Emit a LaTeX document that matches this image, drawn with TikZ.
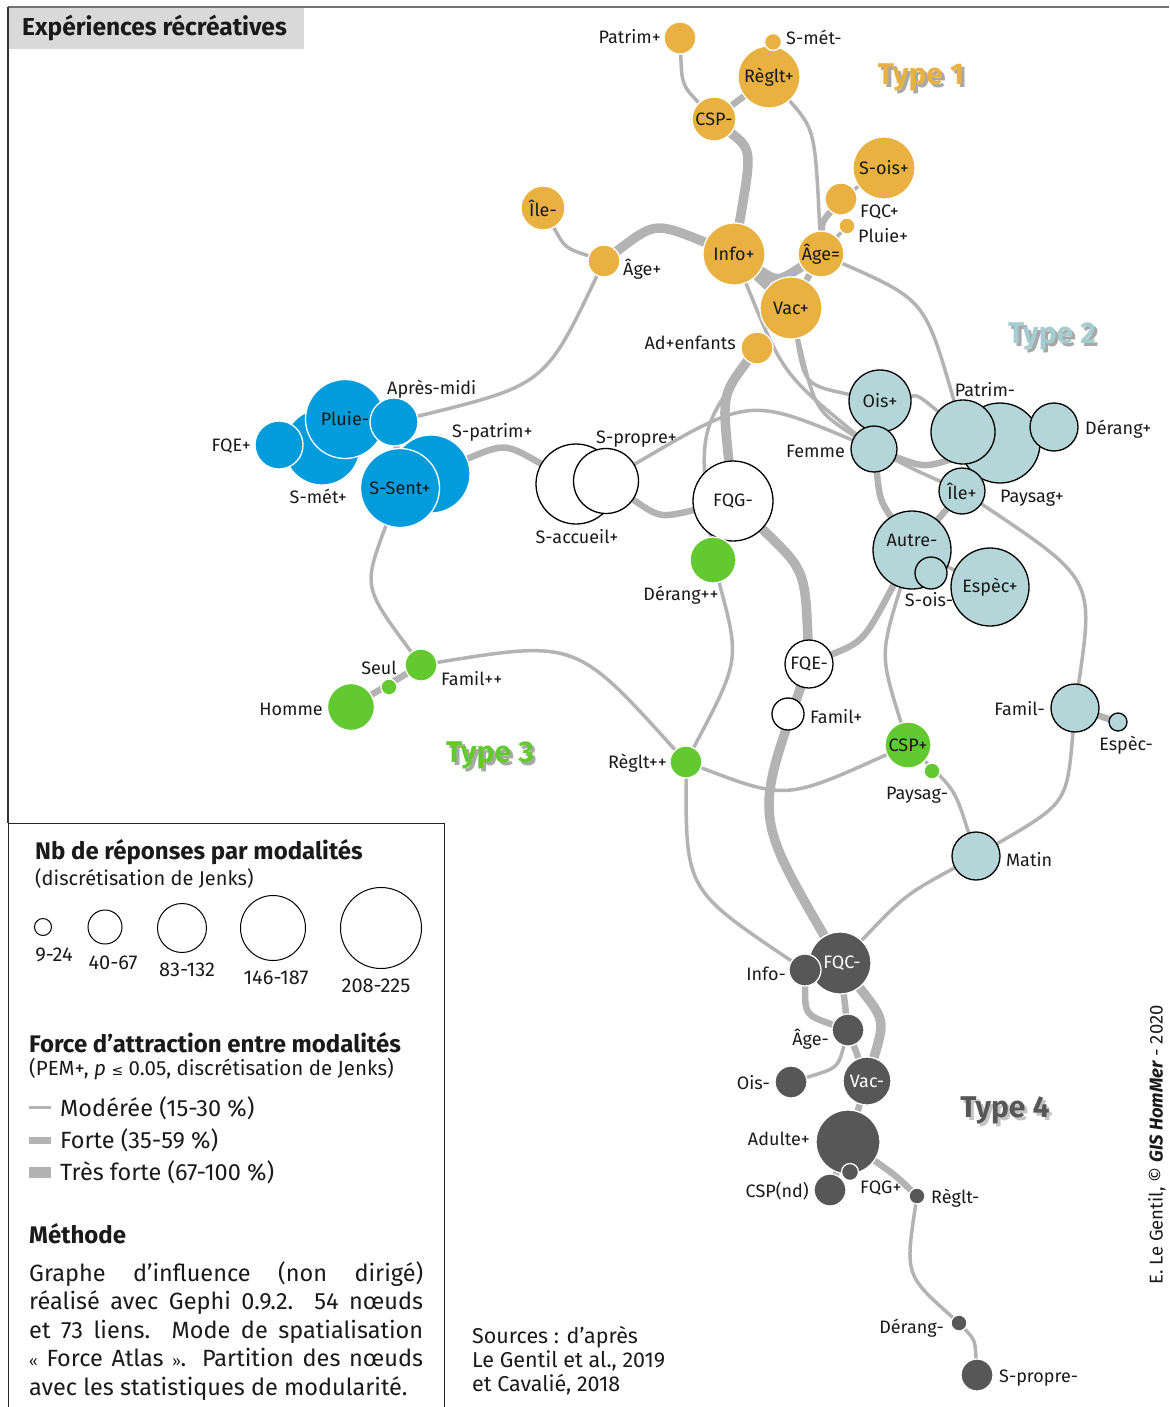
\documentclass[tikz,border=0pt]{standalone}
\usepackage{fontspec}
\setmainfont{Fira Sans}
\newfontfamily\dejavu{DejaVu Sans}
\definecolor{orn}{HTML}{E8B142}
\definecolor{blu}{HTML}{009CDB}
\definecolor{tea}{HTML}{B4D6D9}
\definecolor{grn}{HTML}{62C930}
\definecolor{dgr}{HTML}{575757}
\definecolor{edg}{HTML}{B3B3B3}
\definecolor{txt}{HTML}{1A1A1A}
\definecolor{ttlgray}{HTML}{D9D9D9}
\definecolor{shd}{HTML}{A8A8A8}
\definecolor{shdk}{HTML}{C4C4C4}
\definecolor{teatype}{HTML}{A6CCD0}
\definecolor{grntype}{HTML}{62C930}
\newcommand\shadowtxt[2]{\rlap{\hspace*{3pt}\raisebox{-3pt}{\textcolor{#1}{#2}}}}
\pgfdeclarelayer{edgelayer}
\pgfsetlayers{edgelayer,main}
\begin{document}
\begin{tikzpicture}[x=1pt,y=-1pt,
 nd/.style={circle,inner sep=0pt,outer sep=0pt,font=\fontsize{18}{20}\selectfont,text=txt,line width=1.3pt},
 on/.style={nd,fill=orn,draw=white},
 bn/.style={nd,fill=blu,draw=white},
 tn/.style={nd,fill=tea,draw=black},
 wn/.style={nd,fill=white,draw=black},
 gn/.style={nd,fill=grn,draw=white},
 kn/.style={nd,fill=dgr,draw=white,text=white},
 lb/.style={inner sep=0pt,font=\fontsize{18}{20}\selectfont,text=txt,text height=12pt,text depth=0pt},
 em/.style={draw=edg,line width=3.5pt},
 ef/.style={draw=edg,line width=6.5pt},
 et/.style={draw=edg,line width=9.5pt},
 typ/.style={inner sep=0pt,font=\fontsize{30}{32}\bfseries\selectfont},
 lgc/.style={circle,draw=black,line width=1pt,fill=white,inner sep=0pt},
 lgt/.style={inner sep=0pt,font=\fontsize{20}{22}\selectfont,text=txt},
 hd/.style={anchor=west,inner sep=0pt,font=\fontsize{24}{26}\bfseries\selectfont,text=txt},
 rg/.style={anchor=west,inner sep=0pt,font=\fontsize{23.5}{26}\selectfont,text=txt},
]
\useasboundingbox (0,0) rectangle (1169,1407);
% frame
\draw[line width=1.5pt,color=black!55] (8,7) -- (1169,7);
\draw[line width=1.5pt,color=black!80] (8,7) -- (8,823);
\node[fill=ttlgray,minimum width=295pt,minimum height=41pt,anchor=north west,inner sep=0pt] (titlebox) at (9,8) {};
\node[anchor=west,inner sep=0pt,font=\fontsize{24.5}{26}\bfseries\selectfont,text=txt] (title) at (22,28) {Expériences récréatives};

% ---------- Type 1 ----------
\node[on,minimum size=32pt] (patrimp) at (680,38) {};
\node[on,minimum size=62pt] (reglp) at (769,77) {Règlt+};
\node[on,minimum size=17pt] (smetm) at (773,42) {};
\node[on,minimum size=44pt] (cspm) at (714,119) {CSP-};
\node[on,minimum size=62pt] (soisp) at (884,168) {S-ois+};
\node[on,minimum size=32pt] (fqcp) at (841,199) {};
\node[on,minimum size=16pt] (pluiep) at (847,226) {};
\node[on,minimum size=44pt] (ilem) at (543,208) {Île-};
\node[on,minimum size=32pt] (agep) at (604,261) {};
\node[on,minimum size=62pt] (infop) at (734,254) {Info+};
\node[on,minimum size=46pt] (agee) at (821,254) {Âge=};
\node[on,minimum size=32pt] (adenf) at (757,348) {};
\node[on,minimum size=62pt] (vacp) at (791,308) {Vac+};
\node[lb,anchor=east] (l-patrimp) at (661,38) {Patrim+};
\node[lb,anchor=west] (l-smetm) at (786,39) {S-mét-};
\node[lb,anchor=west] (l-fqcp) at (860,211) {FQC+};
\node[lb,anchor=west] (l-pluiep) at (858,236) {Pluie+};
\node[lb,anchor=west] (l-agep) at (623,269) {Âge+};
\node[lb,anchor=east] (l-adenf) at (736,343) {Ad+enfants};

% ---------- Type 3 blue ----------
\node[bn,minimum size=76pt] (smetp) at (322,447) {};
\node[bn,minimum size=79pt] (pluiem) at (345,419) {Pluie-};
\node[bn,minimum size=48pt] (fqep) at (279,445) {};
\node[bn,minimum size=48pt] (apres) at (394,422) {};
\node[bn,minimum size=78pt] (spatrim) at (431,474) {};
\node[bn,minimum size=79pt] (ssent) at (400,488) {S-Sent+};
\node[lb,anchor=west] (l-apres) at (387,388) {Après-midi};
\node[lb,anchor=east] (l-fqep) at (251,445) {FQE+};
\node[lb,anchor=west] (l-spatrim) at (452,431) {S-patrim+};
\node[lb,anchor=east] (l-smetp) at (347,497) {S-mét+};

% ---------- white ----------
\node[wn,minimum size=80pt] (saccueil) at (576,484) {};
\node[wn,minimum size=65pt] (spropre) at (606,481) {};
\node[wn,minimum size=80pt] (fqgm) at (733,501) {FQG-};
\node[wn,minimum size=48pt] (fqem) at (809,664) {FQE-};
\node[wn,minimum size=32pt] (familp) at (788,714) {};
\node[lb,anchor=west] (l-spropre) at (596,437) {S-propre+};
\node[lb] (l-saccueil) at (577,537) {S-accueil+};
\node[lb,anchor=west] (l-familp) at (810,717) {Famil+};

% ---------- green ----------
\node[gn,minimum size=46pt] (derangpp) at (713,560) {};
\node[gn,minimum size=32pt] (famipp) at (421,665) {};
\node[gn,minimum size=16pt] (seul) at (389,687) {};
\node[gn,minimum size=47pt] (homme) at (351,707) {};
\node[gn,minimum size=32pt] (regltpp) at (686,762) {};
\node[gn,minimum size=46pt] (cspp) at (908,745) {CSP+};
\node[gn,minimum size=16pt] (paysagm) at (932,771) {};
\node[lb] (l-derangpp) at (681,594) {Dérang++};
\node[lb] (l-seul) at (379,668) {Seul};
\node[lb,anchor=west] (l-famipp) at (441,679) {Famil++};
\node[lb,anchor=east] (l-homme) at (323,709) {Homme};
\node[lb,anchor=east] (l-regltpp) at (667,762) {Règlt++};
\node[lb] (l-paysagm) at (917,793) {Paysag-};

% ---------- teal ----------
\node[tn,minimum size=62pt] (oisp) at (880,401) {Ois+};
\node[tn,minimum size=46pt] (femme) at (874,449) {};
\node[tn,minimum size=80pt] (paysagp) at (1000,443) {};
\node[tn,minimum size=64pt] (patrimm) at (963,432) {};
\node[tn,minimum size=48pt] (derangp) at (1054,427) {};
\node[tn,minimum size=46pt] (ilep) at (962,491) {Île+};
\node[tn,minimum size=78pt] (autrem) at (912,550) {};
\node[tn,minimum size=32pt] (soism) at (931,573) {};
\node[tn,minimum size=78pt] (especp) at (990,587) {Espèc+};
\node[tn,minimum size=48pt] (familm) at (1075,708) {};
\node[tn,minimum size=18pt] (especm) at (1118,722) {};
\node[tn,minimum size=48pt] (matin) at (976,856) {};
\node[lb] (l-autrem) at (912,540) {Autre-};
\node[lb,anchor=east] (l-femme) at (845,451) {Femme};
\node[lb] (l-patrimm) at (985,390) {Patrim-};
\node[lb,anchor=west] (l-derangp) at (1085,428) {Dérang+};
\node[lb,anchor=west] (l-paysagp) at (1000,496) {Paysag+};
\node[lb] (l-soism) at (929,600) {S-ois-};
\node[lb,anchor=east] (l-familm) at (1045,709) {Famil-};
\node[lb] (l-especm) at (1126,744) {Espèc-};
\node[lb,anchor=west] (l-matin) at (1006,860) {Matin};

% ---------- dark gray ----------
\node[kn,minimum size=62pt] (fqcm) at (840,963) {\hspace*{4pt}FQC-};
\node[kn,minimum size=32pt] (infom) at (805,970) {};
\node[kn,minimum size=32pt] (agem) at (848,1030) {};
\node[kn,minimum size=32pt] (oism) at (791,1082) {};
\node[kn,minimum size=48pt] (vacm) at (867,1081) {Vac-};
\node[kn,minimum size=64pt] (adulte) at (848,1142) {};
\node[kn,minimum size=32pt] (cspnd) at (830,1190) {};
\node[kn,minimum size=17pt] (fqgp) at (850,1172) {};
\node[kn,minimum size=16pt] (regltm) at (917,1196) {};
\node[kn,minimum size=16pt] (derangm) at (959,1323) {};
\node[kn,minimum size=32pt] (sproprem) at (977,1375) {};
\node[lb,anchor=east] (l-infom) at (786,974) {Info-};
\node[lb,anchor=east] (l-agem) at (829,1039) {Âge-};
\node[lb,anchor=east] (l-oism) at (770,1083) {Ois-};
\node[lb,anchor=east] (l-adulte) at (810,1139) {Adulte+};
\node[lb,anchor=west] (l-fqgp) at (860,1187) {FQG+};
\node[lb,anchor=east] (l-cspnd) at (809,1191) {CSP(nd)};
\node[lb,anchor=west] (l-regltm) at (931,1197) {Règlt-};
\node[lb,anchor=east] (l-derangm) at (944,1327) {Dérang-};
\node[lb,anchor=west] (l-sproprem) at (999,1376) {S-propre-};

% ---------- type labels ----------
\node[typ] (t1) at (921,79) {\shadowtxt{shd}{Type 1}\textcolor{orn}{Type 1}};
\node[typ] (t2) at (1052,338) {\shadowtxt{shd}{Type 2}\textcolor{teatype}{Type 2}};
\node[typ] (t3) at (490,757) {\shadowtxt{shd}{Type 3}\textcolor{grntype}{Type 3}};
\node[typ] (t4) at (1005,1112) {\shadowtxt{shdk}{Type 4}\textcolor{dgr}{Type 4}};

% ---------- edges ----------
\begin{pgfonlayer}{edgelayer}
\draw[em] (patrimp) .. controls (682,85) .. (cspm);
\draw[ef] (cspm) -- (reglp);
\draw[et] (cspm) .. controls (752,150) .. (infop);
\draw[em] (reglp) .. controls (815,130) .. (agee);
\draw[em] (soisp) -- (fqcp);
\draw[ef] (fqcp) .. controls (822,222) .. (agee);
\draw[em] (pluiep) -- (agee);
\draw[em] (ilem) .. controls (565,248) .. (agep);
\draw[et] (agep) .. controls (655,222) .. (infop);
\draw[em] (agep) .. controls (545,385) .. (apres);
\draw[et] (infop) .. controls (778,282) .. (agee);
\draw[et] (infop) -- (vacp);
\draw[ef] (agee) -- (vacp);
\draw[em] (infop) .. controls (783,374) .. (femme);
\draw[em] (vacp) .. controls (805,385) .. (oisp);
\draw[em] (vacp) .. controls (815,410) .. (femme);
\draw[em] (agee) .. controls (925,300) .. (patrimm);
\draw[et] (adenf) .. controls (722,395) .. (fqgm);
\draw[em] (adenf) .. controls (699,431) .. (derangpp);
\draw[ef] (spatrim) .. controls (505,443) .. (saccueil);
\draw[ef] (spropre) .. controls (660,518) .. (fqgm);
\draw[em] (spropre) .. controls (749,397) .. (femme);
\draw[et] (fqgm) .. controls (805,570) .. (fqem);
\draw[et] (fqem) .. controls (755,816) .. (fqcm);
\draw[ef] (fqem) .. controls (864,641) .. (autrem);
\draw[ef] (femme) .. controls (880,500) .. (autrem);
\draw[ef] (autrem) -- (ilep);
\draw[em] (autrem) -- (especp);
\draw[ef] (femme) .. controls (925,468) .. (paysagp);
\draw[em] (femme) .. controls (915,470) .. (ilep);
\draw[em] (oisp) .. controls (918,395) .. (patrimm);
\draw[em] (ilep) .. controls (1094,579) .. (familm);
\draw[ef] (familm) -- (especm);
\draw[em] (familm) .. controls (1067,803) .. (matin);
\draw[em] (autrem) .. controls (880,655) .. (cspp);
\draw[em] (cspp) .. controls (786,800) .. (regltpp);
\draw[em] (cspp) .. controls (955,790) .. (matin);
\draw[em] (matin) .. controls (905,895) .. (fqcm);
\draw[em] (regltpp) .. controls (740,660) .. (derangpp);
\draw[em] (famipp) .. controls (576,640) .. (regltpp);
\draw[em] (regltpp) .. controls (686,890) .. (infom);
\draw[em] (ssent) .. controls (363,587) .. (famipp);
\draw[ef] (famipp) -- (homme);
\draw[ef] (apres) -- (ssent);
\draw[ef] (fqcm) -- (agem);
\draw[ef] (infom) .. controls (805,1015) .. (agem);
\draw[et] (fqcm) .. controls (885,1020) .. (vacm);
\draw[em] (agem) .. controls (838,1068) .. (oism);
\draw[ef] (agem) -- (vacm);
\draw[ef] (vacm) -- (adulte);
\draw[ef] (adulte) .. controls (895,1175) .. (regltm);
\draw[ef] (adulte) -- (cspnd);
\draw[em] (regltm) .. controls (905,1275) .. (derangm);
\draw[em] (derangm) .. controls (975,1340) .. (sproprem);
\end{pgfonlayer}

% ---------- legend ----------
\draw[line width=1pt,color=black!85] (8,1408) -- (8,823) -- (444,823) -- (444,1408);
\node[hd] (lg1) at (35,852) {Nb de réponses par modalités};
\node[anchor=west,inner sep=0pt,font=\fontsize{20}{22}\selectfont,text=txt] (lg1b) at (35,878) {(discrétisation de Jenks)};
\node[lgc,minimum size=17pt] (c1) at (43,927) {};
\node[lgc,minimum size=34pt] (c2) at (105,927) {};
\node[lgc,minimum size=49pt] (c3) at (182,928) {};
\node[lgc,minimum size=65pt] (c4) at (273,928) {};
\node[lgc,minimum size=81pt] (c5) at (381,928) {};
\node[lgt] (c1l) at (54,955) {9-24};
\node[lgt] (c2l) at (113,963) {40-67};
\node[lgt] (c3l) at (187,970) {83-132};
\node[lgt] (c4l) at (276,978) {146-187};
\node[lgt] (c5l) at (376,986) {208-225};
\node[hd] (lg2) at (29,1043) {Force d’attraction entre modalités};
\node[anchor=west,inner sep=0pt,font=\fontsize{20.5}{22}\selectfont,text=txt] (lg2b) at (29,1069) {(PEM+, \textit{p} {\dejavu\fontsize{14}{15}\selectfont ≤} 0.05, discrétisation de Jenks)};
\draw[draw=edg,line width=3pt] (29,1107) -- (51,1107);
\draw[draw=edg,line width=7pt] (29,1140) -- (51,1140);
\draw[draw=edg,line width=11pt] (29,1172) -- (51,1172);
\node[rg] (lgm) at (60,1108) {Modérée (15-30 \%)};
\node[rg] (lgf) at (60,1140) {Forte (35-59 \%)};
\node[rg] (lgt) at (60,1172) {Très forte (67-100 \%)};
\node[hd] (lg3) at (29,1234) {Méthode};
\node[anchor=north west,inner sep=0pt,align=left,font=\fontsize{23.5}{28.5}\selectfont,text=txt] (meth) at (29,1261) {\makebox[394pt][s]{Graphe d’influence (non dirigé)}\\\makebox[394pt][s]{réalisé avec Gephi 0.9.2. 54 nœuds}\\\makebox[394pt][s]{et 73 liens. Mode de spatialisation}\\\makebox[394pt][s]{{\fontsize{15}{16}\selectfont«}~Force Atlas~{\fontsize{15}{16}\selectfont»}. Partition des nœuds}\\avec les statistiques de modularité.};
\node[anchor=north west,inner sep=0pt,align=left,font=\fontsize{21.5}{24}\selectfont,text=txt] (src) at (472,1326) {Sources : d’après\\Le Gentil et al., 2019\\et Cavalié, 2018};
\node[rotate=90,inner sep=0pt,font=\fontsize{18.5}{20}\selectfont,text=txt] (credit) at (1157,1145) {E. Le Gentil, © {\bfseries\itshape GIS HomMer} - 2020};
\end{tikzpicture}
\end{document}
